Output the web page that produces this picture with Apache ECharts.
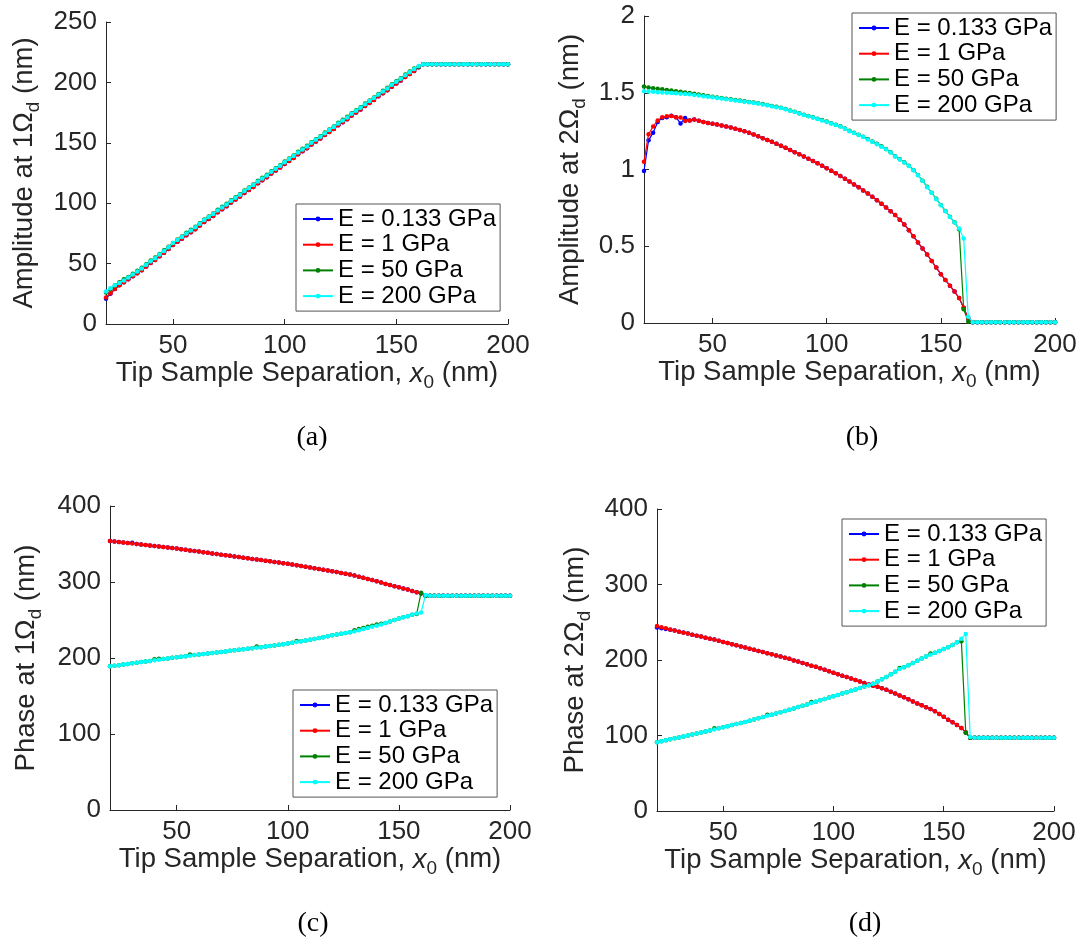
<!DOCTYPE html>
<html>
<head>
<meta charset="utf-8">
<script src="https://cdn.jsdelivr.net/npm/echarts@6/dist/echarts.min.js"></script>
<style>
html,body{margin:0;padding:0;background:#fff;}
#chart{width:1083px;height:944px;}
</style>
</head>
<body>
<div id="chart"></div>
<script>
// ---- shared x values (tip-sample separation, nm) ----
const xs = [20,22,24,26,28,30,32,34,36,38,
            40,42,44,46,48,50,52,54,56,58,
            60,62,64,66,68,70,72,74,76,78,
            80,82,84,86,88,90,92,94,96,98,
            100,102,104,106,108,110,112,114,116,118,
            120,122,124,126,128,130,132,134,136,138,
            140,142,144,146,148,150,152,154,156,158,
            160,162,164,166,168,170,172,174,176,178,
            180,182,184,186,188,190,192,194,196,198,
            200];

const seriesNames = ['E = 0.133 GPa','E = 1 GPa','E = 50 GPa','E = 200 GPa'];
const seriesColors = ['#0000ff','#ff0000','#008000','#00ffff'];

// ---- (a) Amplitude at 1Ωd ----
const aBlue = [21,25,29,32,34.5,37,39.5,42,44.5,47.5,
  50.5,53,56,59,62,65.5,68,70.5,73.5,76,
  78.5,81.5,84.5,87,89.5,92.5,95,97.5,100.5,103,
  105.5,108.5,111,113.5,116.5,119,121.5,124.5,127,129.5,
  132.5,135,137.5,140.5,143,145.5,148.5,151,153.5,156.5,
  159,161.5,164.5,167,169.5,172.5,175,177.5,180.5,183,
  185.5,188.5,191,193.5,196.5,199,201.5,204.5,207,209.5,
  212.5,215,215,215,215,215,215,215,215,215,
  215,215,215,215,215,215,215,215,215,215,
  215];
const aRed = [22,25.5,29,32,34.5,37,39.5,42,44.5,47.5,
  50.5,53,56,59,62,65.5,68,70.5,73.5,76,
  78.5,81.5,84.5,87,89.5,92.5,95,97.5,100.5,103,
  105.5,108.5,111,113.5,116.5,119,121.5,124.5,127,129.5,
  132.5,135,137.5,140.5,143,145.5,148.5,151,153.5,156.5,
  159,161.5,164.5,167,169.5,172.5,175,177.5,180.5,183,
  185.5,188.5,191,193.5,196.5,199,201.5,204.5,207,209.5,
  212.5,215,215,215,215,215,215,215,215,215,
  215,215,215,215,215,215,215,215,215,215,
  215];
const aGreen = [26,29,32,34.5,37,39,41.5,44,46.5,49.5,
  52.5,55,58,61,64,67,70,72.5,75.5,78,
  80.5,83.5,86.5,89,91.5,94.5,97,99.5,102.5,105,
  107.5,110.5,113,115.5,118.5,121,123.5,126.5,129,131.5,
  134.5,137,139.5,142.5,145,147.5,150.5,153,155.5,158.5,
  161,163.5,166.5,169,171.5,174.5,177,179.5,182.5,185,
  187.5,190.5,193,195.5,198.5,201,203.5,206.5,209,211.5,
  213,215,215,215,215,215,215,215,215,215,
  215,215,215,215,215,215,215,215,215,215,
  215];
const aCyan = [27,29.5,32,34,36,38.5,41,43.5,46,49,
  52,54.5,57.5,60.5,63.5,67,69.5,72,75,77.5,
  80,83,86,88.5,91,94,96.5,99,102,104.5,
  107,110,112.5,115,118,120.5,123,126,128.5,131,
  134,136.5,139,142,144.5,147,150,152.5,155,158,
  160.5,163,166,168.5,171,174,176.5,179,182,184.5,
  187,190,192.5,195,198,200.5,203,206,208.5,211,
  213.5,215,215,215,215,215,215,215,215,215,
  215,215,215,215,215,215,215,215,215,215,
  215];

// ---- (b) Amplitude at 2Ωd ----
const bBlue = [0.99,1.19,1.24,1.31,1.335,1.34,1.35,1.34,1.30,1.335,
  1.32,1.325,1.318,1.31,1.303,1.298,1.293,1.287,1.28,1.273,
  1.266,1.258,1.249,1.239,1.228,1.216,1.204,1.192,1.18,1.167,
  1.154,1.141,1.127,1.113,1.099,1.085,1.07,1.055,1.04,1.024,
  1.008,0.992,0.975,0.958,0.94,0.922,0.903,0.884,0.864,0.843,
  0.822,0.8,0.777,0.753,0.728,0.703,0.673,0.642,0.605,0.565,
  0.525,0.485,0.447,0.404,0.361,0.318,0.28,0.243,0.205,0.163,
  0.1,0.03,0.005,0.005,0.005,0.005,0.005,0.005,0.005,0.005,
  0.005,0.005,0.005,0.005,0.005,0.005,0.005,0.005,0.005,0.005,
  0.005];
const bRed = [1.05,1.23,1.28,1.32,1.34,1.347,1.348,1.34,1.338,1.316,
  1.32,1.325,1.318,1.31,1.303,1.298,1.293,1.287,1.28,1.273,
  1.266,1.258,1.249,1.239,1.228,1.216,1.204,1.192,1.18,1.167,
  1.154,1.141,1.127,1.113,1.099,1.085,1.07,1.055,1.04,1.024,
  1.008,0.992,0.975,0.958,0.94,0.922,0.903,0.884,0.864,0.843,
  0.822,0.8,0.777,0.753,0.728,0.703,0.673,0.642,0.605,0.565,
  0.525,0.485,0.447,0.404,0.361,0.318,0.28,0.243,0.205,0.163,
  0.1,0.03,0.005,0.005,0.005,0.005,0.005,0.005,0.005,0.005,
  0.005,0.005,0.005,0.005,0.005,0.005,0.005,0.005,0.005,0.005,
  0.005];
const bGreen = [1.54,1.535,1.53,1.526,1.522,1.518,1.514,1.51,1.506,1.502,
  1.498,1.494,1.489,1.484,1.479,1.474,1.469,1.465,1.461,1.457,
  1.453,1.449,1.445,1.44,1.436,1.432,1.426,1.42,1.414,1.408,
  1.402,1.394,1.385,1.376,1.367,1.357,1.349,1.34,1.331,1.322,
  1.312,1.302,1.292,1.282,1.267,1.252,1.24,1.227,1.213,1.198,
  1.182,1.167,1.151,1.134,1.112,1.087,1.067,1.047,1.024,0.997,
  0.964,0.927,0.887,0.849,0.809,0.769,0.73,0.692,0.656,0.61,
  0.09,0.01,0.005,0.005,0.005,0.005,0.005,0.005,0.005,0.005,
  0.005,0.005,0.005,0.005,0.005,0.005,0.005,0.005,0.005,0.005,
  0.005];
const bCyan = [1.51,1.508,1.506,1.504,1.502,1.5,1.498,1.496,1.494,1.492,
  1.49,1.486,1.482,1.478,1.474,1.47,1.466,1.462,1.458,1.454,
  1.45,1.446,1.442,1.438,1.434,1.43,1.424,1.418,1.412,1.406,
  1.4,1.392,1.383,1.374,1.365,1.355,1.347,1.338,1.329,1.32,
  1.31,1.3,1.29,1.28,1.265,1.25,1.238,1.225,1.211,1.196,
  1.18,1.165,1.149,1.132,1.11,1.085,1.065,1.045,1.022,0.995,
  0.962,0.925,0.885,0.847,0.807,0.767,0.728,0.69,0.655,0.615,
  0.55,0.04,0.005,0.005,0.005,0.005,0.005,0.005,0.005,0.005,
  0.005,0.005,0.005,0.005,0.005,0.005,0.005,0.005,0.005,0.005,
  0.005];

// ---- (c) Phase at 1Ωd ----
const cBlue = [354,353.3,352.7,352,351.3,351.5,350,349.3,348.7,348,
  347.3,346.7,346,345.3,344.7,344,343.2,342.4,341.6,340.8,
  340,339.2,338.4,337.6,336.8,336,335.2,334.4,333.6,332.8,
  332,331.2,330.4,329.6,328.8,328,327.2,326.4,325.6,324.8,
  324,323,322,321,320,319,318,317,316,315,
  314,313,312,311,310,308.5,307,305.5,304,302.5,
  301,299.5,297.5,296,294.5,293,291.5,290,288,286.5,
  285,282,282,282,282,282,282,282,282,282,
  282,282,282,282,282,282,282,282,282,282,
  282];
const cRed = [354,353.3,352.7,352,351.3,350.7,350,349.3,348.7,348,
  347.3,346.7,346,345.3,344.7,344,343.2,342.4,341.6,340.8,
  340,339.2,338.4,337.6,336.8,336,335.2,334.4,333.6,332.8,
  332,331.2,330.4,329.6,328.8,328,327.2,326.4,325.6,324.8,
  324,323,322,321,320,319,318,317,316,315,
  314,313,312,311,310,308.5,307,305.5,304,302.5,
  301,299.5,297.5,296,294.5,293,291.5,290,288,286.5,
  285,282,282,282,282,282,282,282,282,282,
  282,282,282,282,282,282,282,282,282,282,
  282];
const cGreen = [189,189.8,190.6,191.4,192.2,193,193.8,194.6,195.4,196.2,
  198.5,199,198.6,199.4,200.2,201,201.7,202.4,204.5,203.8,
  204.5,205.2,205.9,206.6,207.3,208,208.7,209.4,210.1,210.8,
  211.5,212.2,212.9,215,214.3,215,215.8,216.6,217.4,218.2,
  219,220,222.5,222,223,224,225,226.2,227.4,228.6,
  229.8,230.8,231.8,232.8,233.8,236.5,238,239.5,241,242.5,
  244,245,246,248,250,252,253.5,255,257,258,
  286,282,282,282,282,282,282,282,282,282,
  282,282,282,282,282,282,282,282,282,282,
  282];
const cCyan = [189,189.8,190.6,191.4,192.2,193,193.8,194.6,195.4,196.2,
  197,197.8,198.6,199.4,200.2,201,201.7,202.4,203.1,203.8,
  204.5,205.2,205.9,206.6,207.3,208,208.7,209.4,210.1,210.8,
  211.5,212.2,212.9,213.6,214.3,215,215.8,216.6,217.4,218.2,
  219,220,221,222,223,224,225,226.2,227.4,228.6,
  229.8,230.8,231.8,232.8,233.8,235,236.5,238,239.5,241,
  242.5,244,246,248,250,252,253.5,255,257,258.5,
  260,283,282,282,282,282,282,282,282,282,
  282,282,282,282,282,282,282,282,282,282,
  282];

// ---- (d) Phase at 2Ωd ----
const dBlue = [243,242,241,240,239,237.5,236.5,235,233.5,232,
  231,229.5,228,227,225.5,224,222.5,221,219.5,218,
  216.5,215,213.5,212,210.5,209,207.5,206,204.5,203,
  201.5,199.5,198,196,194.5,192.5,191,189,187,185,
  183,181,179,177.5,175.5,173.5,171.5,169.5,167.5,166,
  164.5,162.5,160.5,158,155.5,153,150.5,148,145,142.5,
  140,137.5,135,132,128.5,125,121,117.5,114,110,
  104,97,97,97,97,97,97,97,97,97,
  97,97,97,97,97,97,97,97,97,97,
  97];
const dRed = [245,243.5,242,240.5,239,237.5,236,235,233.5,232,
  231,229.5,228,227,225.5,224,222.5,221,219.5,218,
  216.5,215,213.5,212,210.5,209,207.5,206,204.5,203,
  201.5,199.5,198,196,194.5,192.5,191,189,187,185,
  183,181,179,177.5,175.5,173.5,171.5,169.5,167.5,166,
  164.5,162.5,160.5,158,155.5,153,150.5,148,145,142.5,
  140,137.5,135,132,128.5,125,121,117.5,114,110,
  104,97,97,97,97,97,97,97,97,97,
  97,97,97,97,97,97,97,97,97,97,
  97];
const dGreen = [91,92.3,93.6,94.9,96.2,97.5,98.8,100,101.3,102.6,
  104,105.3,106.6,109.5,109.5,111,112.4,113.8,115.2,116.6,
  118,119.6,121.2,122.8,124.4,127.5,127.6,129.2,130.8,132.4,
  134,135.8,137.6,139.4,141.2,144.5,144.8,146.6,148.4,150.2,
  152,153.8,155.6,157.4,159.2,161,162.8,164.8,166.6,168.5,
  171.5,174.5,177.5,181,184.5,189.5,190.5,193,196,199,
  202,204.5,208.5,209.5,212,214.5,217,220,223.5,225,
  103.5,97,97,97,97,97,97,97,97,97,
  97,97,97,97,97,97,97,97,97,97,
  97];
const dCyan = [91,92.3,93.6,94.9,96.2,97.5,98.8,100,101.3,102.6,
  104,105.3,106.6,108,109.5,111,112.4,113.8,115.2,116.6,
  118,119.6,121.2,122.8,124.4,126,127.6,129.2,130.8,132.4,
  134,135.8,137.6,139.4,141.2,143,144.8,146.6,148.4,150.2,
  152,153.8,155.6,157.4,159.2,161,162.8,164.8,166.6,168.5,
  171.5,174.5,177.5,181,184.5,188,190.5,193,196,199,
  202,204.5,207,209.5,212,214.5,217,220,223.5,228,
  234.5,98,97,97,97,97,97,97,97,97,
  97,97,97,97,97,97,97,97,97,97,
  97];

// ---- axis ticks / labels ----
const xTicks = [50,100,150,200];
const xRange = [20,200];
const yRanges = [[0,250,50],[0,2,0.5],[0,400,100],[0,400,100]];
const yTitles = [['Amplitude at 1Ω','d'],['Amplitude at 2Ω','d'],['Phase at 1Ω','d'],['Phase at 2Ω','d']];
const panelLabels = ['(a)','(b)','(c)','(d)'];
const panelData = [
  [aBlue,aRed,aGreen,aCyan],
  [bBlue,bRed,bGreen,bCyan],
  [cBlue,cRed,cGreen,cCyan],
  [dBlue,dRed,dGreen,dCyan]
];

// ---- layout ----
const grids = [
  {left:106, top:22, width:402, height:302},
  {left:644, top:16, width:411, height:307},
  {left:110, top:506, width:400, height:304},
  {left:657, top:509, width:397, height:302}
];
const yNameGaps = [63,55,65,63];
const legendPos = [
  {left:296, top:204},
  {left:852, top:13},
  {left:293, top:690},
  {left:842, top:519}
];
const labelPos = [[312,438],[862,438],[313,924],[865,924]];

const FONT = '"Liberation Sans", Arial, Helvetica, sans-serif';
const AX = '#262626';
const TITLE_SIZE = 27.5;

const richStyles = {
  n: {fontSize:TITLE_SIZE, fontFamily:FONT, color:AX},
  i: {fontSize:TITLE_SIZE, fontFamily:FONT, color:AX, fontStyle:'italic'},
  s: {fontSize:19, fontFamily:FONT, color:AX, padding:[18,0,0,0]}
};

const option = {
  backgroundColor:'#fff',
  animation:false,
  grid: grids.map(g => Object.assign({containLabel:false}, g)),
  xAxis: grids.map((g,i) => ({
    type:'value', gridIndex:i, min:xRange[0], max:xRange[1],
    name:'{n|Tip Sample Separation, }{i|x}{s|0}{n| (nm)}',
    nameLocation:'middle', nameGap:31,
    nameTextStyle:{rich:richStyles, fontFamily:FONT, fontSize:TITLE_SIZE, color:AX},
    axisLine:{show:true, onZero:false, lineStyle:{color:AX, width:1}},
    axisTick:{show:true, inside:true, length:5, customValues:xTicks, lineStyle:{color:AX}},
    axisLabel:{show:true, customValues:xTicks, margin:9, fontSize:26, fontFamily:FONT, color:AX},
    splitLine:{show:false}
  })),
  yAxis: grids.map((g,i) => ({
    type:'value', gridIndex:i, min:yRanges[i][0], max:yRanges[i][1], interval:yRanges[i][2],
    name:'{n|'+yTitles[i][0]+'}{s|'+yTitles[i][1]+'}{n| (nm)}',
    nameLocation:'middle', nameGap:yNameGaps[i],
    nameTextStyle:{rich:richStyles, fontFamily:FONT, fontSize:TITLE_SIZE, color:AX},
    axisLine:{show:true, onZero:false, lineStyle:{color:AX, width:1}},
    axisTick:{show:true, inside:true, length:5, lineStyle:{color:AX}},
    axisLabel:{show:true, margin:9, fontSize:26, fontFamily:FONT, color:AX},
    splitLine:{show:false}
  })),
  legend: legendPos.map(p => ({
    left:p.left, top:p.top, orient:'vertical',
    data:seriesNames,
    selectedMode:false,
    backgroundColor:'#fff', borderColor:'#555', borderWidth:1,
    padding:[3,4,3,6], itemGap:1.7, itemWidth:30, itemHeight:6,
    textStyle:{fontSize:24, fontFamily:FONT, color:'#000', lineHeight:24}
  })),
  series: [],
  graphic: labelPos.map((p,i) => ({
    type:'text', x:p[0], y:p[1],
    style:{text:panelLabels[i], font:'28px "Liberation Serif", "Times New Roman", serif',
      fill:'#000', align:'center', verticalAlign:'middle', textAlign:'center', textVerticalAlign:'middle'}
  }))
};

panelData.forEach((arrs, p) => {
  arrs.forEach((arr, k) => {
    option.series.push({
      type:'line', name:seriesNames[k],
      xAxisIndex:p, yAxisIndex:p,
      data: xs.map((x, j) => [x, arr[j]]),
      color: seriesColors[k],
      symbol:'circle', symbolSize:4.5, showSymbol:true,
      lineStyle:{width:1.2, color:seriesColors[k]},
      itemStyle:{color:seriesColors[k]},
      emphasis:{disabled:true},
      z: 2 + k
    });
  });
});

const chart = echarts.init(document.getElementById('chart'), null, {renderer:'canvas'});
chart.setOption(option);
</script>
</body>
</html>
